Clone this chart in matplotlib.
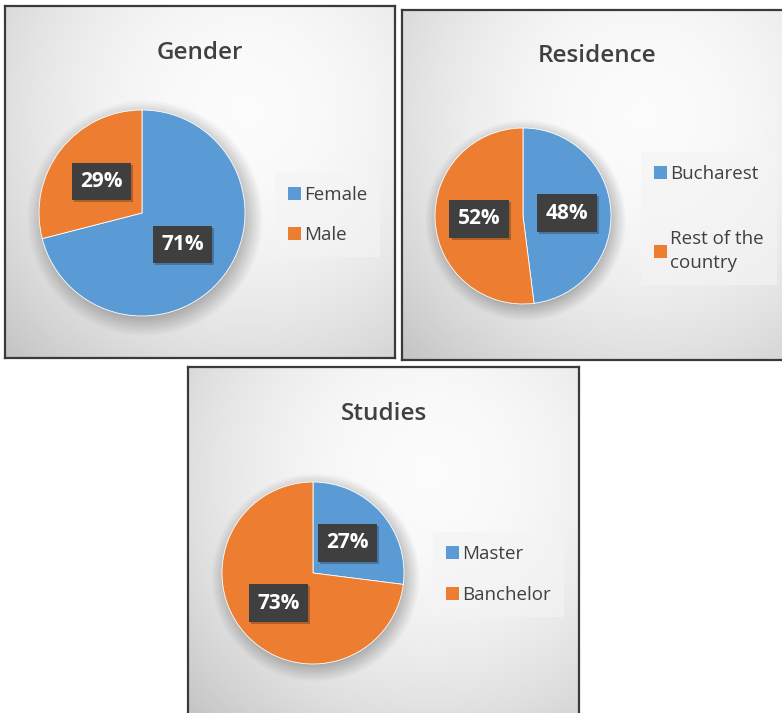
import matplotlib.pyplot as plt
import matplotlib.patheffects as pe
import numpy as np

# survey breakdowns (percent)
gender_labels = ["Female", "Male"]
gender_values = [71, 29]

residence_labels = ["Bucharest", "Rest of the\ncountry"]
residence_values = [48, 52]

studies_labels = ["Master", "Banchelor"]
studies_values = [27, 73]

titles = ["Gender", "Residence", "Studies"]

BLUE = "#5b9bd5"
ORANGE = "#ed7d31"
TEXT = "#404040"

W, H = 782, 713
plt.rcParams["font.family"] = ["Open Sans", "DejaVu Sans"]

fig = plt.figure(figsize=(W / 100, H / 100), dpi=100)
fig.patch.set_facecolor("white")


def px_rect(x, y, w, h):
    # pixel box (top-left origin) -> figure fraction rect
    return [x / W, 1 - (y + h) / H, w / W, h / H]


def draw_panel(panel, pie_c, pie_r, legend_at, title, labels, values, spacing):
    x, y, w, h = panel
    bg = fig.add_axes(px_rect(x, y, w, h))
    ny, nx = 200, 220
    yy, xx = np.mgrid[0:1:ny * 1j, 0:1:nx * 1j]
    d2 = ((xx - 0.62) / 0.62) ** 2 + ((yy - 0.7) / 0.7) ** 2
    shade = np.clip(0.985 - 0.11 * d2, 0.75, 0.985)
    bg.imshow(shade, cmap="gray", vmin=0, vmax=1, extent=[0, 1, 0, 1],
              origin="lower", aspect="auto", interpolation="bicubic")
    bg.set_xlim(0, 1)
    bg.set_ylim(0, 1)
    bg.set_xticks([])
    bg.set_yticks([])
    for s in bg.spines.values():
        s.set_color("#3a3a3a")
        s.set_linewidth(1.6)
    bg.text(0.5, 0.85, title, transform=bg.transAxes, ha="center",
            va="baseline", fontsize=17.5, fontweight="semibold", color=TEXT)

    # pie axes, a bit larger than the pie so the soft shadow fits
    L = 1.25
    cx, cy = pie_c
    ext = pie_r * L
    ax = fig.add_axes(px_rect(cx - ext, cy - ext, 2 * ext, 2 * ext))
    ax.patch.set_alpha(0)
    g = np.linspace(-L, L, 300)
    X, Y = np.meshgrid(g, g)
    r = np.hypot(X - 0.03, Y + 0.05)
    a = 0.26 * np.clip(1 - (r - 0.95) / 0.2, 0, 1)
    rgba = np.zeros((300, 300, 4))
    rgba[..., 3] = a
    ax.imshow(rgba, extent=[-L, L, -L, L], origin="lower", zorder=0,
              interpolation="bicubic")

    wedges, _, pcts = ax.pie(
        values, colors=[BLUE, ORANGE], startangle=90, counterclock=False,
        autopct="%1.0f%%", pctdistance=0.5, radius=1,
        wedgeprops=dict(edgecolor="white", linewidth=0.6, zorder=1),
    )
    for t in pcts:
        t.set_color("white")
        t.set_fontweight("bold")
        t.set_fontsize(15)
        t.set_zorder(5)
        t.set_bbox(dict(boxstyle="square,pad=0.4", fc="#3f3f3f", ec="none"))
        t.get_bbox_patch().set_path_effects(
            [pe.SimplePatchShadow(offset=(1.5, -1.5), alpha=0.28), pe.Normal()])
    ax.set_xlim(-L, L)
    ax.set_ylim(-L, L)
    ax.axis("off")

    lx, ly = legend_at
    leg = fig.legend(
        wedges, labels, loc="upper left",
        bbox_to_anchor=(lx / W, 1 - ly / H), fontsize=13.5,
        labelcolor=TEXT, frameon=True, fancybox=False,
        facecolor="#f4f4f4", edgecolor="none", framealpha=0.65,
        handlelength=0.7, handleheight=0.7, handletextpad=0.15,
        borderpad=0.7, labelspacing=spacing, borderaxespad=0,
    )
    for hnd in leg.legend_handles:
        hnd.set_edgecolor("none")
    for t in leg.get_texts():
        t.set_linespacing(1.42)
    return leg


draw_panel((5, 6, 390, 352), (142, 213), 103, (275, 173),
           titles[0], gender_labels, gender_values, 1.17)
draw_panel((402, 10, 390, 350), (523, 216), 88, (641, 152),
           titles[1], residence_labels, residence_values, 2.5)
draw_panel((188, 367, 391, 352), (313, 573), 91, (433, 532),
           titles[2], studies_labels, studies_values, 1.2)

fig.savefig("out.png", dpi=100, facecolor="white")
